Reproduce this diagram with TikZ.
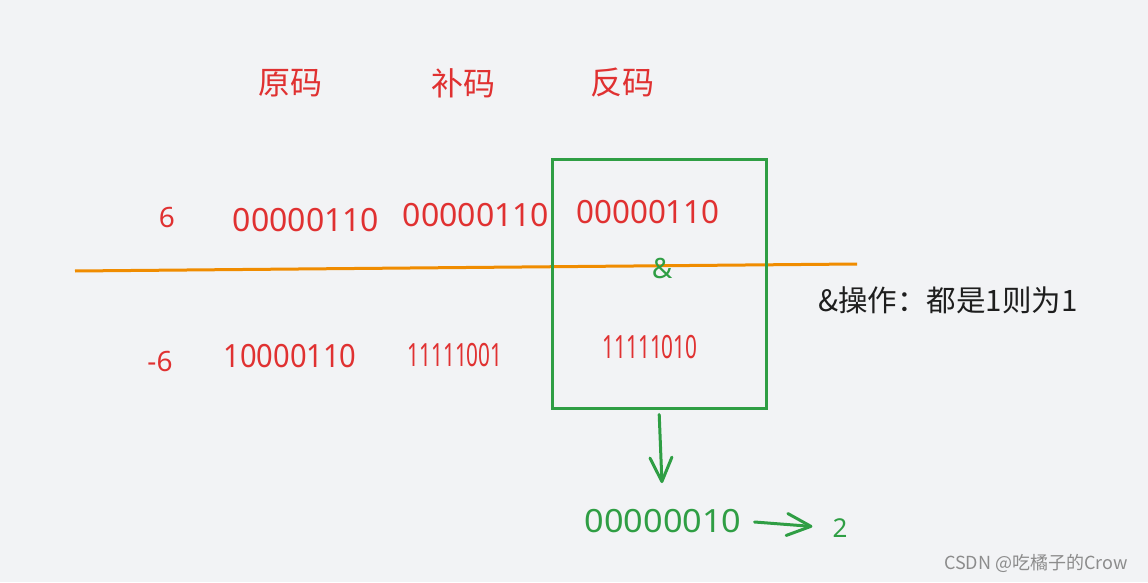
\documentclass[tikz,border=0pt]{standalone}
\usepackage{fontspec}
\setmainfont{Noto Sans}
\newfontfamily\cjk{Noto Sans CJK SC}
\usepackage{graphicx}
\usetikzlibrary{arrows.meta}
\definecolor{bgcol}{HTML}{F2F3F5}
\definecolor{codered}{HTML}{E03131}
\definecolor{opgreen}{HTML}{2F9E44}
\definecolor{lineorange}{HTML}{F08C00}
\definecolor{notedark}{HTML}{1E1E1E}
\newcommand{\bitsx}[2]{\scalebox{#1}[1]{#2}}

\begin{document}
\begin{tikzpicture}[x=1pt,y=1pt,
    head/.style={text=codered,font=\cjk\fontsize{32}{32}\selectfont,inner sep=0pt},
    bits/.style={text=codered,font=\fontsize{32}{32}\selectfont,inner sep=0pt},
    num/.style={text=codered,font=\bfseries\fontsize{28}{28}\selectfont,inner sep=0pt},
    greenarrow/.style={draw=opgreen,line width=3pt,line cap=round,
        -{Straight Barb[length=24pt,width=22pt,line width=3pt,round]}}]
    \fill[bgcol] (0,0) rectangle (1148,582);
    \useasboundingbox (0,0) rectangle (1148,582);

    % column titles
    \foreach \x/\t/\n in {290/原码/yuan, 463/补码/bu, 622/反码/fan} {
        \node[head] (\n) at (\x,499) {\t};
    }

    % row for 6
    \node[num] (six) at (167,364) {6};
    \node[bits] (sixyuan) at (306,362) {\bitsx{1}{00000110}};
    \node[bits] (sixbu) at (476,367) {\bitsx{1}{00000110}};
    \node[bits] (sixfan) at (648,370) {\bitsx{0.98}{00000110}};

    % row for -6
    \node[num] (msix) at (160,220) {-6};
    \node[bits] (msixyuan) at (290,226) {\bitsx{0.91}{10000110}};
    \node[bits] (msixbu) at (455,227) {\bitsx{0.65}{11111001}};
    \node[bits] (msixfan) at (650,235) {\bitsx{0.65}{11111010}};

    % separating line
    \coordinate (lineL) at (75,311);
    \coordinate (lineR) at (857,318);
    \draw[lineorange,line width=3pt] (lineL) -- (lineR);

    % the and box
    \node[draw=opgreen,line width=3pt,minimum width=214pt,minimum height=248pt,
        inner sep=0pt] (andbox) at (659,298) {};
    \node[text=opgreen,font=\bfseries\fontsize{28}{28}\selectfont,inner sep=0pt] (amp) at (662,314) {\&};
    \node[text=notedark,font=\cjk\fontsize{29.5}{29.5}\selectfont,inner sep=0pt,anchor=west]
        (note) at (818,282) {\&操作：都是1则为1};

    % result
    \node[text=opgreen,font=\fontsize{32}{32}\selectfont,inner sep=0pt] (res) at (663,61) {\bitsx{1.07}{00000010}};
    \node[text=opgreen,font=\bfseries\fontsize{26}{26}\selectfont,inner sep=0pt] (val) at (840,54) {2};
    \draw[greenarrow,shorten <=5pt,shorten >=26pt] (andbox.south) -- (res.north);
    \draw[greenarrow,shorten <=13pt,shorten >=20pt] (res.east) -- (val.west);

    \node[text=black!45,font=\cjk\fontsize{18}{18}\selectfont,inner sep=0pt] (mark) at (1036,19) {CSDN @吃橘子的Crow};
\end{tikzpicture}
\end{document}
